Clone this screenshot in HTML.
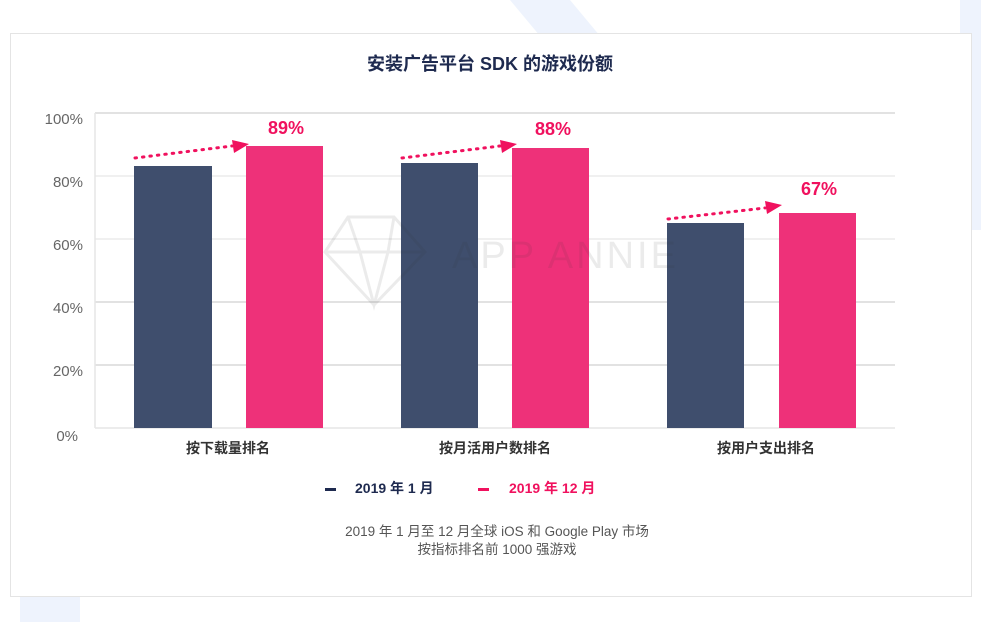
<!DOCTYPE html>
<html><head><meta charset="utf-8"><style>
html,body{margin:0;padding:0;background:#fff;}
body{width:981px;height:622px;overflow:hidden;font-family:"Liberation Sans","Noto Sans CJK SC",sans-serif;}
</style></head><body>
<svg width="981" height="622" xmlns="http://www.w3.org/2000/svg" font-family="Liberation Sans, Noto Sans CJK SC, sans-serif">
<polygon points="510,0 570,0 620,60 560,60" fill="#eef3fd"/>
<polygon points="960,0 981,0 981,230 960,230" fill="#eef3fd"/>
<rect x="20" y="597" width="60" height="25" fill="#eef3fd"/>
<rect x="10.5" y="33.5" width="961" height="563" fill="#fff" stroke="#e4e4e4"/>
<text x="490" y="70" text-anchor="middle" font-size="18" font-weight="bold" fill="#1e2a4f">安装广告平台 SDK 的游戏份额</text>
<g stroke="#d8d8d8" stroke-width="1.5">
<line x1="95" y1="113" x2="895" y2="113"/>
<line x1="95" y1="176" x2="895" y2="176" stroke="#ececec"/>
<line x1="95" y1="239" x2="895" y2="239" stroke="#ececec"/>
<line x1="95" y1="302" x2="895" y2="302"/>
<line x1="95" y1="365" x2="895" y2="365"/>
<line x1="95" y1="428" x2="895" y2="428" stroke="#e6e6e6"/>
<line x1="95" y1="113" x2="95" y2="428" stroke="#e6e6e6"/>
</g>
<g font-size="15" fill="#666" text-anchor="end">
<text x="83" y="124">100%</text><text x="83" y="187">80%</text><text x="83" y="250">60%</text>
<text x="83" y="313">40%</text><text x="83" y="376">20%</text><text x="78" y="441">0%</text>
</g>
<g fill="#3f4e6d">
<rect x="134" y="166" width="78" height="262"/>
<rect x="401" y="163" width="77" height="265"/>
<rect x="667" y="223" width="77" height="205"/>
</g>
<g fill="#ee3179">
<rect x="246" y="146" width="77" height="282"/>
<rect x="512" y="148" width="77" height="280"/>
<rect x="779" y="213" width="77" height="215"/>
</g>
<g opacity="0.09" fill="none" stroke="#333" stroke-width="3">
<polygon points="348,217 394,217 425,252 374,305 325,252"/>
<polyline points="325,252 425,252"/>
<polyline points="348,217 360,252 374,305 388,252 394,217"/>
<text x="452" y="268" font-size="38" fill="#333" stroke="none" letter-spacing="3">APP ANNIE</text>
</g>
<g stroke="#f0115e" stroke-width="3" stroke-dasharray="1.5,6" stroke-linecap="round" fill="none">
<line x1="135" y1="158" x2="232" y2="146"/>
<line x1="402" y1="158" x2="500" y2="146"/>
<line x1="668" y1="219" x2="765" y2="208"/>
</g>
<g fill="#f0115e">
<polygon points="232,140 249,144 234,153"/>
<polygon points="500,140 517,144 502,153"/>
<polygon points="765,201 782,205 767,214"/>
</g>
<g font-size="18" font-weight="bold" fill="#f0115e" text-anchor="middle">
<text x="286" y="134">89%</text><text x="553" y="135">88%</text><text x="819" y="195">67%</text>
</g>
<g font-size="14" font-weight="bold" fill="#333" text-anchor="middle">
<text x="228" y="453">按下载量排名</text><text x="495" y="453">按月活用户数排名</text><text x="766" y="453">按用户支出排名</text>
</g>
<rect x="325" y="488" width="11" height="3" fill="#1e2a4f"/>
<text x="355" y="493" font-size="14" font-weight="bold" fill="#1e2a4f">2019 年 1 月</text>
<rect x="478" y="488" width="11" height="3" fill="#f0115e"/>
<text x="509" y="493" font-size="14" font-weight="bold" fill="#f0115e">2019 年 12 月</text>
<g font-size="13.5" fill="#555" text-anchor="middle">
<text x="497" y="536">2019 年 1 月至 12 月全球 iOS 和 Google Play 市场</text>
<text x="497" y="554">按指标排名前 1000 强游戏</text>
</g>
</svg>
</body></html>
